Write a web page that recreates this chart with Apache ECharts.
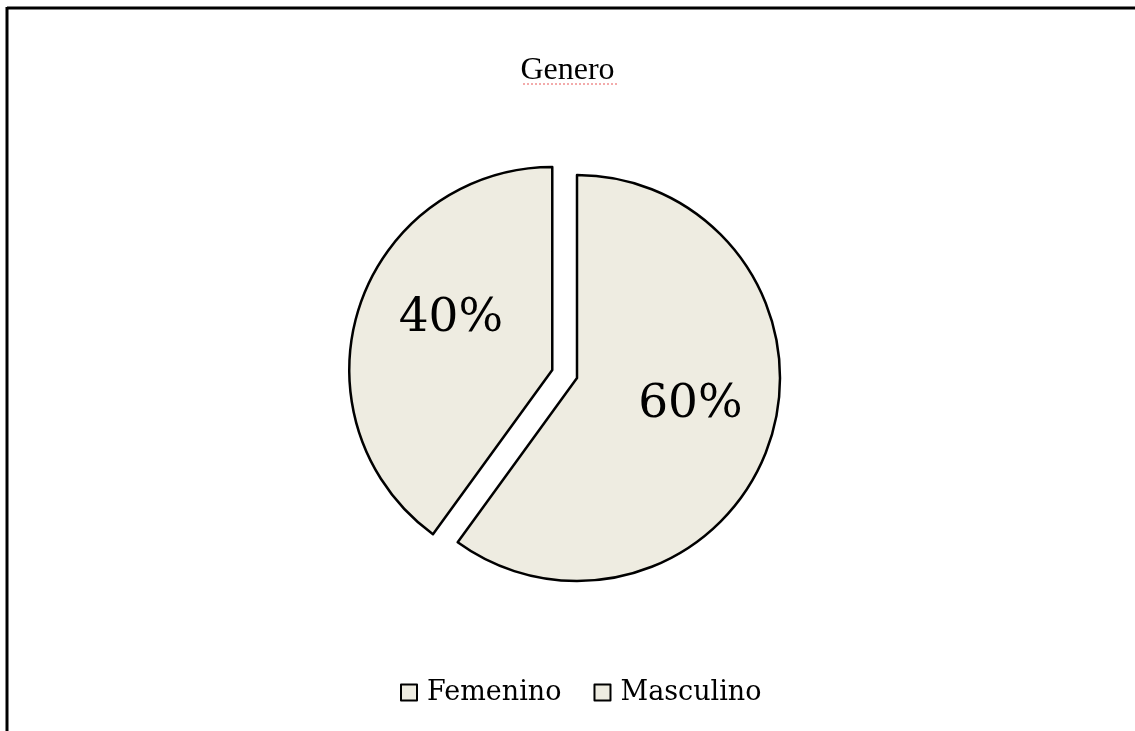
<!DOCTYPE html>
<html>
<head>
<meta charset="utf-8">
<script src="https://cdn.jsdelivr.net/npm/echarts@6/dist/echarts.min.js"></script>
<style>
  html, body { margin: 0; padding: 0; background: #fff; }
  #chart { width: 1135px; height: 731px; }
</style>
</head>
<body>
<div id="chart"></div>
<script>
// 数据
const categories = ['Femenino', 'Masculino']
const values = [40, 60]
const chartTitle = 'Genero'

// 标签微调（只是样式）
const labelOffsets = [[-2, -19], [14, -5]]

const chart = echarts.init(document.getElementById('chart'))

const fill = '#EEECE1'

chart.setOption({
  animation: false,
  title: {
    text: chartTitle,
    left: 'center',
    top: 50,
    textStyle: { fontFamily: 'Liberation Serif', fontSize: 32, fontWeight: 'normal', color: '#000' }
  },
  legend: {
    data: categories,
    bottom: 20,
    left: 395,
    icon: 'rect',
    itemWidth: 16,
    itemHeight: 16,
    itemGap: 32,
    selectedMode: false,
    textStyle: { fontFamily: 'DejaVu Serif', fontSize: 27, color: '#000', padding: [0, 0, 0, 5] }
  },
  graphic: [
    // 外框（上、左）
    { type: 'line', shape: { x1: 7, y1: 8, x2: 1135, y2: 8 }, style: { stroke: '#000', lineWidth: 3 } },
    { type: 'line', shape: { x1: 7, y1: 7, x2: 7, y2: 731 }, style: { stroke: '#000', lineWidth: 3 } },
    // 拼写检查下划线
    { type: 'line', shape: { x1: 523, y1: 84, x2: 617, y2: 84 }, style: { stroke: '#f09090', lineWidth: 1.5, lineDash: [2, 2] } }
  ],
  series: [{
    type: 'pie',
    center: [577, 378],
    radius: 203,
    startAngle: 234,
    clockwise: true,
    selectedMode: true,
    selectedOffset: 26,
    emphasis: { disabled: true },
    itemStyle: { color: fill, borderColor: '#000', borderWidth: 2.5 },
    label: {
      show: true,
      position: 'inside',
      formatter: '{d}%',
      fontFamily: 'DejaVu Serif',
      fontSize: 47,
      color: '#000'
    },
    labelLine: { show: false },
    data: categories.map((name, i) => ({
      name,
      value: values[i],
      selected: i === 0,
      label: { offset: labelOffsets[i] },
      select: {
        itemStyle: { color: fill, borderColor: '#000', borderWidth: 2.5 },
        label: { offset: labelOffsets[i], color: '#000' }
      }
    }))
  }]
})
</script>
</body>
</html>
